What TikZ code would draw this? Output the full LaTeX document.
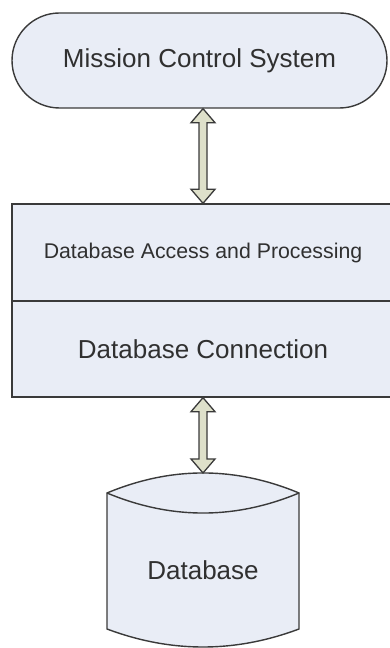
\documentclass[tikz,border=0pt]{standalone}
\usepackage{fontspec}
\setmainfont{Liberation Sans}
\usetikzlibrary{calc}
\definecolor{boxfill}{HTML}{E9EDF6}
\definecolor{arrowfill}{HTML}{DEE0CA}
\definecolor{linec}{HTML}{3A3A3A}
\definecolor{textc}{HTML}{303030}
\tikzset{
  x=1pt, y=1pt,
  outl/.style={draw=linec, line width=1.4pt, fill=boxfill},
  bigtext/.style={text=textc, font=\fontsize{26}{30}\selectfont},
  smalltext/.style={text=textc, font=\fontsize{21.3}{25}\selectfont},
  mcsbox/.style={outl, rounded corners=47.5pt, minimum width=375pt, minimum height=95pt, inner sep=0pt, bigtext},
  layerbox/.style={outl, minimum width=382pt, inner sep=0pt},
  arrowsty/.style={draw=linec, line width=1.3pt, fill=arrowfill, line join=miter},
}
\newcommand\blockarrow[2]{%
  \draw[arrowsty] let \p1=#1, \p2=#2 in
    (\x1,\y1) -- (\x1+12pt,\y1-14pt) -- (\x1+4pt,\y1-14pt) -- (\x1+4pt,\y2+14pt)
    -- (\x1+12pt,\y2+14pt) -- (\x1,\y2) -- (\x1-12pt,\y2+14pt) -- (\x1-4pt,\y2+14pt)
    -- (\x1-4pt,\y1-14pt) -- (\x1-12pt,\y1-14pt) -- cycle;}
\begin{document}
\begin{tikzpicture}
\useasboundingbox (0,0) rectangle (389,648);
\node[mcsbox] (mcs) at (199.5,587.5) {Mission Control System};
\node[layerbox, minimum height=97pt, smalltext] (dap) at (203,395.5) {Database Access and Processing};
\node[layerbox, minimum height=96pt, bigtext] (dbc) at (203,299) {Database Connection};
\coordinate (cyltop) at (203,175);
% cylinder
\filldraw[outl] (107,155) -- (107,19) .. controls (171,-5) and (235,-5) .. (299,19)
  -- (299,155) .. controls (235,181.7) and (171,181.7) .. cycle;
\draw[draw=linec, line width=1.4pt] (107,155) .. controls (171,128.3) and (235,128.3) .. (299,155);
\node[bigtext] (db) at (203,78) {Database};
\blockarrow{(mcs.south -| cyltop)}{(dap.north -| cyltop)}
\blockarrow{(dbc.south -| cyltop)}{(cyltop)}
\end{tikzpicture}
\end{document}
